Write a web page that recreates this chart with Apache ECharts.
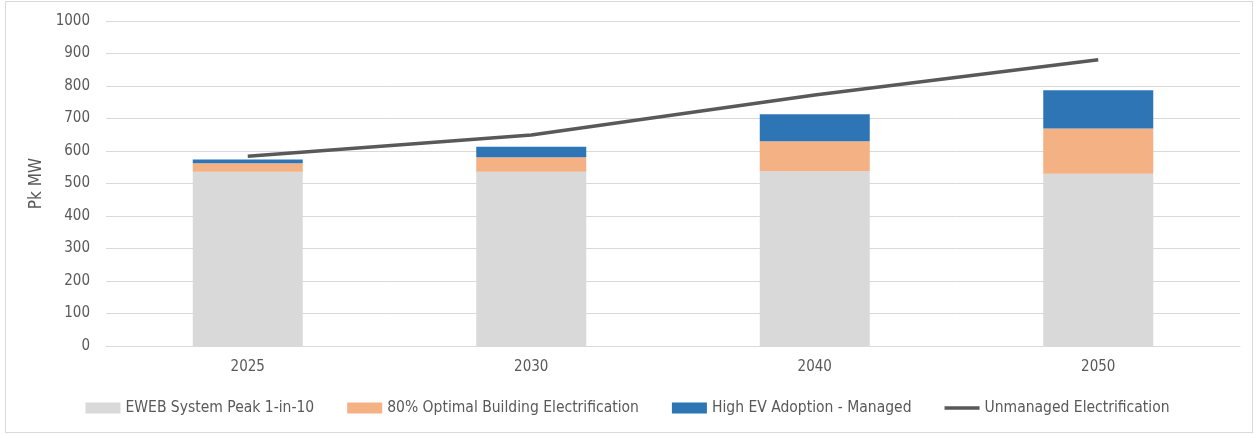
<!DOCTYPE html>
<html>
<head>
<meta charset="utf-8">
<script src="https://cdn.jsdelivr.net/npm/echarts@6/dist/echarts.min.js"></script>
<style>
  html, body { margin: 0; padding: 0; background: #fff; }
  .frame {
    position: absolute; left: 5px; top: 1px; width: 1248px; height: 432px;
    border: 1px solid #d9d9d9; box-sizing: border-box;
  }
  #chart { position: absolute; left: 0; top: 0; width: 1255px; height: 435px; }
</style>
</head>
<body>
<div class="frame"></div>
<div id="chart"></div>
<script>
const years = ['2025', '2030', '2040', '2050'];
const systemPeak = [536, 536, 538, 530];
const buildingElec = [26, 45, 92, 139];
const evManaged = [12, 32, 83, 118];
const unmanaged = [584, 649, 772, 881];

const font = "'Liberation Sans Narrow', 'DejaVu Sans Condensed', sans-serif";
const textGray = '#595959';

const chart = echarts.init(document.getElementById('chart'));
chart.setOption({
  animation: false,
  textStyle: { fontFamily: font },
  grid: { left: 106, right: 15, top: 21, bottom: 89 },
  legend: {
    bottom: 14,
    left: 'center',
    itemGap: 33,
    itemWidth: 35,
    itemHeight: 11,
    textStyle: { fontFamily: font, fontSize: 15.5, color: textGray },
    data: [
      { name: 'EWEB System Peak 1-in-10', icon: 'rect' },
      { name: '80% Optimal Building Electrification', icon: 'rect' },
      { name: 'High EV Adoption - Managed', icon: 'rect' },
      { name: 'Unmanaged Electrification', icon: 'path://M0,0H41V4H0Z' }
    ]
  },
  xAxis: {
    type: 'category',
    data: years,
    axisLine: { lineStyle: { color: '#d9d9d9' } },
    axisTick: { show: false },
    axisLabel: { fontFamily: font, fontSize: 15, color: textGray, margin: 14 }
  },
  yAxis: {
    type: 'value',
    min: 0,
    max: 1000,
    interval: 100,
    name: 'Pk MW',
    nameLocation: 'middle',
    nameGap: 56,
    nameRotate: 90,
    nameTextStyle: { fontFamily: font, fontSize: 17, color: textGray },
    axisLine: { show: false },
    axisTick: { show: false },
    axisLabel: { fontFamily: font, fontSize: 15, color: textGray, margin: 16, formatter: (v) => String(v) },
    splitLine: { lineStyle: { color: '#d9d9d9' } }
  },
  series: [
    {
      name: 'EWEB System Peak 1-in-10', type: 'bar', stack: 'load',
      barWidth: 110, data: systemPeak, itemStyle: { color: '#d9d9d9' }
    },
    {
      name: '80% Optimal Building Electrification', type: 'bar', stack: 'load',
      barWidth: 110, data: buildingElec, itemStyle: { color: '#f4b183' }
    },
    {
      name: 'High EV Adoption - Managed', type: 'bar', stack: 'load',
      barWidth: 110, data: evManaged, itemStyle: { color: '#2e75b6' }
    },
    {
      name: 'Unmanaged Electrification', type: 'line', data: unmanaged,
      symbol: 'none', lineStyle: { color: '#595959', width: 3.5 },
      itemStyle: { color: '#595959' }
    }
  ]
});
</script>
</body>
</html>
